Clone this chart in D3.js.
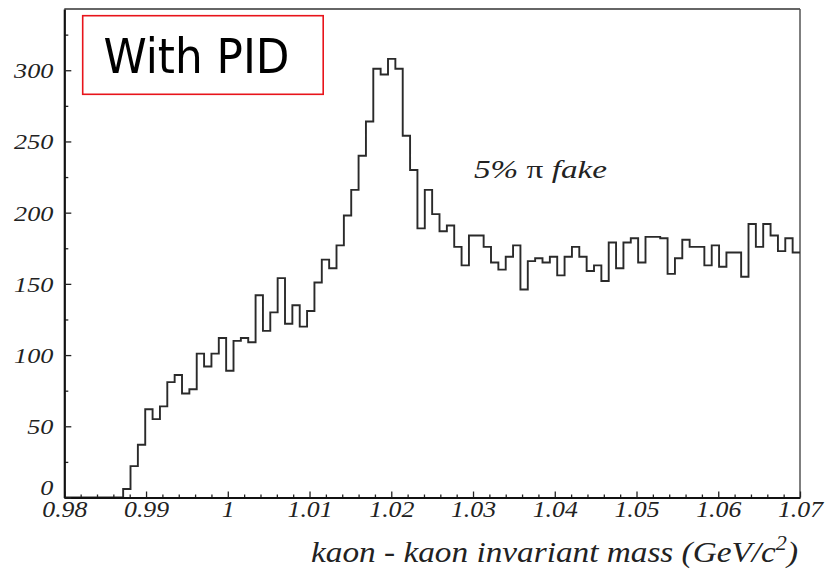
<!DOCTYPE html>
<html><head><meta charset="utf-8">
<script src="https://cdn.jsdelivr.net/npm/d3@7"></script>
<style>
body{margin:0;background:#fff;}
svg{display:block;}
.serif{font-family:"Liberation Serif","Times New Roman",serif;font-style:italic;fill:#222;}
</style></head><body>
<svg id="c" width="828" height="569"></svg>
<script>
// ---- data ----
const binLow = 0.98, binHigh = 1.07, binWidth = 0.0009;
const counts = [
  0,0,0,0,0,0,0,0,6,22,
  37,62,55,64,81,86,73,76,101,92,
  101,112,89,110,112,109,142,117,130,154,
  122,135,120,131,151,167,161,177,198,216,
  240,264,301,297,308,301,254,230,189,216,
  199,187,191,176,163,184,184,176,165,160,
  169,177,146,166,168,165,169,156,169,176,
  169,159,163,152,179,161,179,182,165,183,
  183,182,157,168,181,176,176,163,177,162,
  172,172,155,192,176,192,184,173,182,172
];
const xMajor = [0.98,0.99,1.00,1.01,1.02,1.03,1.04,1.05,1.06,1.07];
const xLabels = ["0.98","0.99","1","1.01","1.02","1.03","1.04","1.05","1.06","1.07"];
const yMajor = [0,50,100,150,200,250,300];
const yLabels = ["0","50","100","150","200","250","300"];
const yMinor = [25,75,125,175,225,275,325];
const xTitle = "kaon - kaon invariant mass (GeV/c";
const annotation = {pre:"5% ", pi:"\u03c0", post:" fake"};
const boxLabel = "With PID";

// ---- layout ----
const L = 64.3, R = 800, T = 9, B = 497.5;
const svg = d3.select("#c");
const x = d3.scaleLinear().domain([0.98,1.07]).range([L,R]);
const y = d3.scaleLinear().domain([0,343]).range([B,T]);
const stretch = 1.19;
function widen(sel,f){ sel.each(function(){ const n=this.getComputedTextLength(); d3.select(this).attr("textLength",n*f).attr("lengthAdjust","spacingAndGlyphs"); }); }

// frame top/right
svg.append("line").attr("x1",L).attr("x2",R).attr("y1",T).attr("y2",T).attr("stroke","#333").attr("stroke-width",1.7);
svg.append("line").attr("x1",R).attr("x2",R).attr("y1",T).attr("y2",B).attr("stroke","#555").attr("stroke-width",1.5);

// histogram
const pts = counts.map((v,i)=>[binLow+i*binWidth, v]);
pts.push([binHigh, counts[counts.length-1]]);
const line = d3.line().x(d=>x(d[0])).y(d=>y(d[1])).curve(d3.curveStepAfter);
svg.append("path").attr("d",line(pts)).attr("fill","none").attr("stroke","#2a2a2a").attr("stroke-width",1.9);

// x axis
const xMinorVals = d3.range(0,46).map(i=>0.98+i*0.002).filter(v=>!xMajor.some(m=>Math.abs(m-v)<1e-6));
const gx = svg.append("g").attr("transform",`translate(0,${B})`);
gx.call(d3.axisBottom(x).tickValues(xMinorVals).tickSize(-3).tickFormat(""));
gx.call(g=>g.select(".domain").remove());
const gx2 = svg.append("g").attr("transform",`translate(0,${B})`);
gx2.call(d3.axisBottom(x).tickValues(xMajor).tickSize(-6).tickFormat((d,i)=>xLabels[i]).tickSizeOuter(0));
gx2.select(".domain").attr("stroke","#111").attr("stroke-width",2.2);
svg.selectAll("g .tick line").attr("stroke","#222").attr("stroke-width",1.3);
gx2.selectAll("text").attr("class","serif").attr("y",19).attr("dy",0).attr("font-size",23).attr("fill","#222");
widen(gx2.selectAll("text"),1.12);

// y axis
const gy = svg.append("g").attr("transform",`translate(${L},0)`);
gy.call(d3.axisLeft(y).tickValues(yMinor).tickSize(-4).tickFormat(""));
gy.call(g=>g.select(".domain").remove());
const gy2 = svg.append("g").attr("transform",`translate(${L},0)`);
gy2.call(d3.axisLeft(y).tickValues(yMajor).tickSize(-7).tickFormat((d,i)=>yLabels[i]).tickSizeOuter(0));
gy2.select(".domain").attr("stroke","#111").attr("stroke-width",2.2);
gy.selectAll(".tick line").attr("stroke","#222").attr("stroke-width",1.3);
gy2.selectAll(".tick line").attr("stroke","#222").attr("stroke-width",1.3);
gy2.selectAll("text").attr("class","serif").attr("x",-11).attr("dy","0.34em").attr("font-size",22).attr("fill","#222");
widen(gy2.selectAll("text"),stretch);
gy2.selectAll(".tick").filter(d=>d===0).select("text").attr("dy","-0.12em");

// x title
const t = svg.append("text").attr("class","serif").attr("x",798).attr("y",562).attr("text-anchor","end").attr("font-size",30);
t.append("tspan").text(xTitle);
t.append("tspan").attr("dy",-12).attr("font-size",20).text("2");
t.append("tspan").attr("dy",12).text(")");
t.attr("textLength",487).attr("lengthAdjust","spacingAndGlyphs");

// annotation
const a = svg.append("text").attr("x",474).attr("y",178).attr("font-size",26).attr("fill","#222")
  .attr("font-family","Liberation Serif, Times New Roman, serif");
a.append("tspan").attr("font-style","italic").text(annotation.pre);
a.append("tspan").text(annotation.pi);
a.append("tspan").attr("font-style","italic").text(annotation.post);
a.attr("textLength",133).attr("lengthAdjust","spacingAndGlyphs");

// box label
svg.append("rect").attr("x",82.7).attr("y",15.7).attr("width",240.5).attr("height",78.6)
  .attr("fill","none").attr("stroke","#e8141b").attr("stroke-width",1.6);
svg.append("text").attr("x",103.5).attr("y",72.7).attr("font-size",48)
  .attr("font-family","DejaVu Sans Condensed, DejaVu Sans, sans-serif").attr("fill","#000")
  .attr("textLength",186).attr("lengthAdjust","spacingAndGlyphs").text(boxLabel);
</script></body></html>
